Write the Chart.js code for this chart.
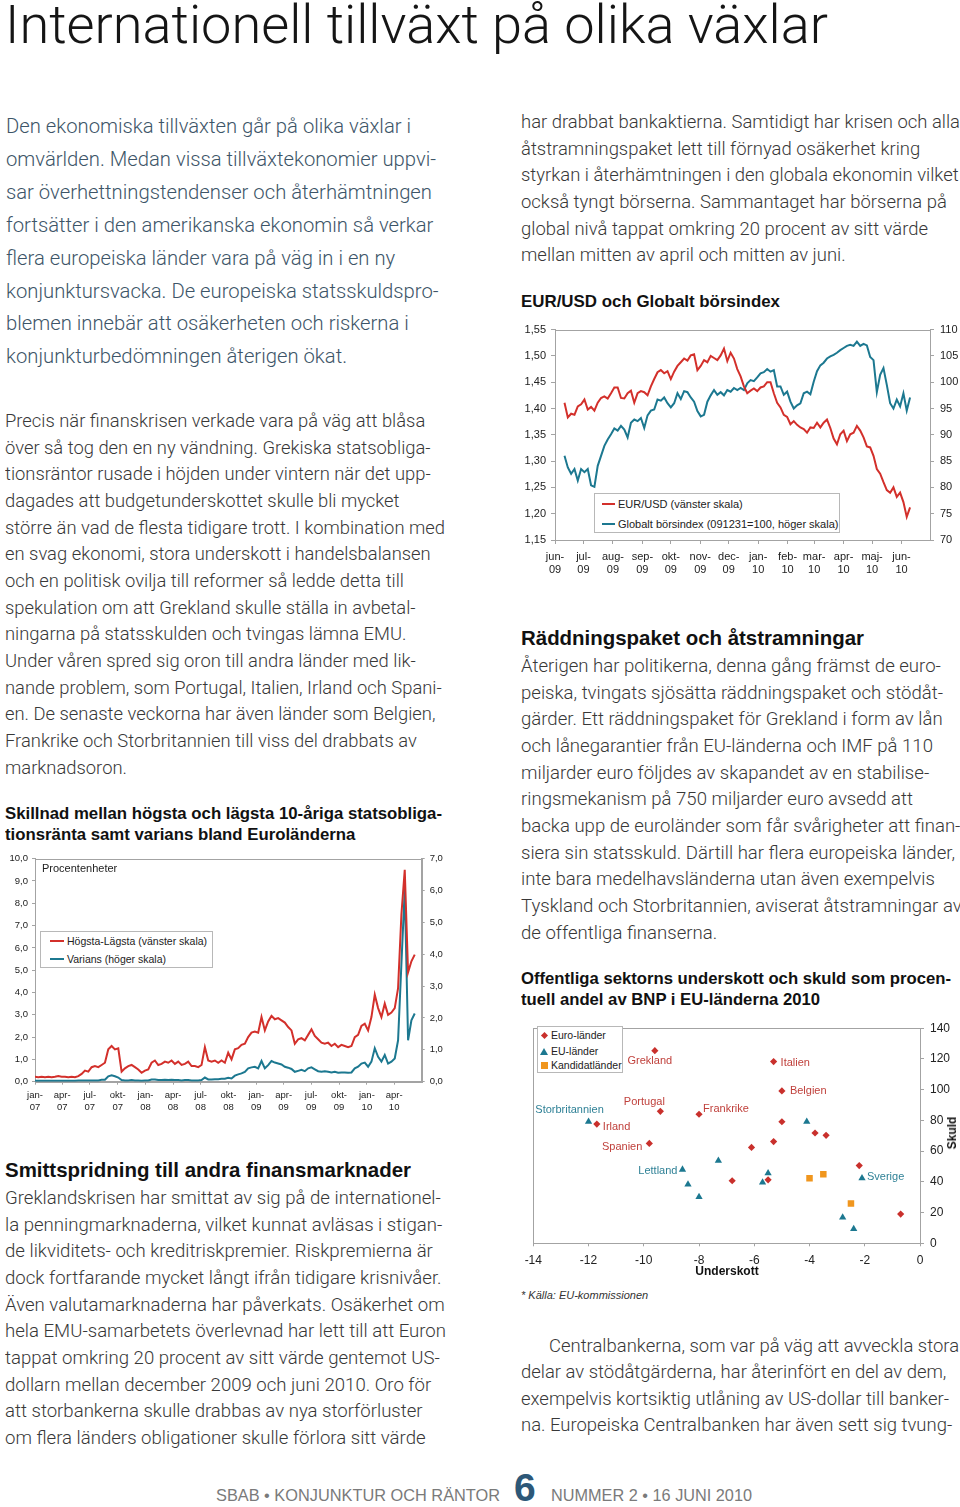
<!DOCTYPE html>
<html lang="sv">
<head>
<meta charset="utf-8">
<title>Internationell tillväxt på olika växlar</title>
<script src="https://cdn.jsdelivr.net/npm/chart.js@4.4.1/dist/chart.umd.min.js"></script>
<style>
html, body { margin: 0; padding: 0; background: #fff; }
body { width: 960px; height: 1507px; position: relative; overflow: hidden; font-family: Roboto, "Liberation Sans", sans-serif; }
.t { position: absolute; white-space: nowrap; transform-origin: 0 0; }
.title { left: 5px; top: -2px; font-family: Roboto, "Liberation Sans", sans-serif; font-weight: 300; font-size: 53.5px; line-height: 53px; color: #151515; }
.intro { font-size: 20px; line-height: 32.9px; color: #3d5568; font-weight: 300; }
.body { font-size: 18.5px; line-height: 26.65px; color: #383838; font-weight: 300; }
.head { font-family: "Liberation Sans", Arial, sans-serif; font-weight: bold; font-size: 21px; line-height: 26px; color: #111; }
.ctitle { font-family: "Liberation Sans", Arial, sans-serif; font-weight: bold; font-size: 16.5px; line-height: 20.7px; color: #111; }
.small { font-family: "Liberation Sans", Arial, sans-serif; font-size: 10.5px; line-height: 13px; color: #222; }
.box { position: absolute; }
.lg { position: absolute; background: #fff; border: 1px solid #b8b8b8; box-sizing: border-box; }
.ln { position: absolute; height: 2px; }
.dia { position: absolute; width: 5px; height: 5px; background: #c9302c; transform: rotate(45deg); }
.tri { position: absolute; width: 0; height: 0; border-left: 4px solid transparent; border-right: 4px solid transparent; border-bottom: 7px solid #1c7890; }
.sq { position: absolute; width: 7px; height: 7px; background: #f0961e; }
.foot { font-family: "Liberation Sans", Arial, sans-serif; font-size: 17px; line-height: 20px; color: #7a7a7a; }
</style>
</head>
<body>

<div class="t title" data-w="823">Internationell tillväxt på olika växlar</div>

<div class="t intro" style="left:6px;top:110px" data-w="430" data-ref="1">
<div>Den ekonomiska tillväxten går på olika växlar i</div>
<div>omvärlden. Medan vissa tillväxtekonomier uppvi-</div>
<div>sar överhettningstendenser och återhämtningen</div>
<div>fortsätter i den amerikanska ekonomin så verkar</div>
<div>flera europeiska länder vara på väg in i en ny</div>
<div>konjunktursvacka. De europeiska statsskuldspro-</div>
<div>blemen innebär att osäkerheten och riskerna i</div>
<div>konjunkturbedömningen återigen ökat.</div>
</div>

<div class="t body" style="left:5px;top:408px" data-w="440" data-ref="4">
<div>Precis när finanskrisen verkade vara på väg att blåsa</div>
<div>över så tog den en ny vändning. Grekiska statsobliga-</div>
<div>tionsräntor rusade i höjden under vintern när det upp-</div>
<div>dagades att budgetunderskottet skulle bli mycket</div>
<div>större än vad de flesta tidigare trott. I kombination med</div>
<div>en svag ekonomi, stora underskott i handelsbalansen</div>
<div>och en politisk ovilja till reformer så ledde detta till</div>
<div>spekulation om att Grekland skulle ställa in avbetal-</div>
<div>ningarna på statsskulden och tvingas lämna EMU.</div>
<div>Under våren spred sig oron till andra länder med lik-</div>
<div>nande problem, som Portugal, Italien, Irland och Spani-</div>
<div>en. De senaste veckorna har även länder som Belgien,</div>
<div>Frankrike och Storbritannien till viss del drabbats av</div>
<div>marknadsoron.</div>
</div>

<div class="t ctitle" style="left:5px;top:803px;line-height:21px" data-w="437" data-ref="0">
<div>Skillnad mellan högsta och lägsta 10-åriga statsobliga-</div>
<div>tionsränta samt varians bland Euroländerna</div>
</div>

<div class="t head" style="left:5px;top:1157px" data-w="406">Smittspridning till andra finansmarknader</div>

<div class="t body" style="left:5px;top:1185px" data-w="441" data-ref="5">
<div>Greklandskrisen har smittat av sig på de internationel-</div>
<div>la penningmarknaderna, vilket kunnat avläsas i stigan-</div>
<div>de likviditets- och kreditriskpremier. Riskpremierna är</div>
<div>dock fortfarande mycket långt ifrån tidigare krisnivåer.</div>
<div>Även valutamarknaderna har påverkats. Osäkerhet om</div>
<div>hela EMU-samarbetets överlevnad har lett till att Euron</div>
<div>tappat omkring 20 procent av sitt värde gentemot US-</div>
<div>dollarn mellan december 2009 och juni 2010. Oro för</div>
<div>att storbankerna skulle drabbas av nya storförluster</div>
<div>om flera länders obligationer skulle förlora sitt värde</div>
</div>

<div class="t body" style="left:521px;top:109px" data-w="439" data-ref="0">
<div>har drabbat bankaktierna. Samtidigt har krisen och alla</div>
<div>åtstramningspaket lett till förnyad osäkerhet kring</div>
<div>styrkan i återhämtningen i den globala ekonomin vilket</div>
<div>också tyngt börserna. Sammantaget har börserna på</div>
<div>global nivå tappat omkring 20 procent av sitt värde</div>
<div>mellan mitten av april och mitten av juni.</div>
</div>

<div class="t ctitle" style="left:521px;top:291px" data-w="259">EUR/USD och Globalt börsindex</div>

<div class="t head" style="left:521px;top:625px" data-w="343">Räddningspaket och åtstramningar</div>

<div class="t body" style="left:521px;top:653px" data-w="434" data-ref="7">
<div>Återigen har politikerna, denna gång främst de euro-</div>
<div>peiska, tvingats sjösätta räddningspaket och stödåt-</div>
<div>gärder. Ett räddningspaket för Grekland i form av lån</div>
<div>och lånegarantier från EU-länderna och IMF på 110</div>
<div>miljarder euro följdes av skapandet av en stabilise-</div>
<div>ringsmekanism på 750 miljarder euro avsedd att</div>
<div>backa upp de euroländer som får svårigheter att finan-</div>
<div>siera sin statsskuld. Därtill har flera europeiska länder,</div>
<div>inte bara medelhavsländerna utan även exempelvis</div>
<div>Tyskland och Storbritannien, aviserat åtstramningar av</div>
<div>de offentliga finanserna.</div>
</div>

<div class="t ctitle" style="left:521px;top:968px;line-height:20.5px" data-w="430" data-ref="0">
<div>Offentliga sektorns underskott och skuld som procen-</div>
<div>tuell andel av BNP i EU-länderna 2010</div>
</div>

<div class="t small" style="left:521px;top:1289px;font-style:italic;font-size:11px;color:#333">* Källa: EU-kommissionen</div>

<div class="t body" style="left:521px;top:1333px;line-height:26.3px" data-w="428" data-ref="2">
<div style="padding-left:28px">Centralbankerna, som var på väg att avveckla stora</div>
<div>delar av stödåtgärderna, har återinfört en del av dem,</div>
<div>exempelvis kortsiktig utlåning av US-dollar till banker-</div>
<div>na. Europeiska Centralbanken har även sett sig tvung-</div>
</div>

<div class="t foot" style="left:216px;top:1486px" data-w="284">SBAB • KONJUNKTUR OCH RÄNTOR</div>
<div class="t" style="left:514px;top:1468px;font-family:'Liberation Sans',Arial,sans-serif;font-weight:bold;font-size:39px;line-height:40px;color:#2d5878">6</div>
<div class="t foot" style="left:551px;top:1486px" data-w="201">NUMMER 2 • 16 JUNI 2010</div>

<!-- charts -->
<div class="box" style="left:515px;top:317px;width:445px;height:265px"><canvas id="c1"></canvas></div>
<div class="box" style="left:0px;top:848px;width:450px;height:268px"><canvas id="c2"></canvas></div>
<div class="box" style="left:515px;top:1015px;width:445px;height:265px"><canvas id="c3"></canvas></div>

<!-- chart 1 legend -->
<div class="lg" style="left:594px;top:493px;width:246px;height:40px"></div>
<div class="ln" style="left:602px;top:503px;width:13px;background:#d3302b"></div>
<div class="t small" style="left:618px;top:497.5px;font-size:11px">EUR/USD (vänster skala)</div>
<div class="ln" style="left:602px;top:523px;width:13px;background:#1c7890"></div>
<div class="t small" style="left:618px;top:517.5px;font-size:11px">Globalt börsindex (091231=100, höger skala)</div>

<!-- chart 2 legend -->
<div class="t small" style="left:42px;top:862px;font-size:11px">Procentenheter</div>
<div class="lg" style="left:40px;top:931px;width:173px;height:37px"></div>
<div class="ln" style="left:50px;top:940px;width:14px;background:#d3302b"></div>
<div class="t small" style="left:67px;top:934.5px">Högsta-Lägsta (vänster skala)</div>
<div class="ln" style="left:50px;top:958px;width:14px;background:#1c7890"></div>
<div class="t small" style="left:67px;top:952.5px">Varians (höger skala)</div>

<!-- chart 3 legend and axis titles -->
<div class="lg" style="left:537px;top:1026px;width:86px;height:47px"></div>
<div class="dia" style="left:541.5px;top:1033px"></div>
<div class="t small" style="left:551px;top:1029px">Euro-länder</div>
<div class="tri" style="left:540px;top:1047.5px"></div>
<div class="t small" style="left:551px;top:1044.5px">EU-länder</div>
<div class="sq" style="left:540.5px;top:1062px"></div>
<div class="t small" style="left:551px;top:1059px">Kandidatländer</div>
<div class="t small" style="left:690px;top:1264px;width:74px;text-align:center;font-weight:bold;font-size:12px;line-height:14px;color:#111">Underskott</div>
<div class="t small" style="left:952px;top:1133px;font-weight:bold;font-size:12px;line-height:14px;color:#111;transform:translate(-50%,-50%) rotate(-90deg);transform-origin:50% 50%">Skuld</div>

<script>
// ---------- data ----------
// EUR/USD och Globalt börsindex, sampled every 3.5 days from 11 June 2009 (day 0 = 1 June 2009)
const eurStartDay = 10;
const eurStepDays = 3.5;
const eurusd = [
  1.411, 1.383, 1.390, 1.388, 1.404, 1.408, 1.417, 1.398, 1.403, 1.396,
  1.411, 1.420, 1.423, 1.419, 1.429, 1.440, 1.440, 1.420, 1.419, 1.429,
  1.434, 1.411, 1.429, 1.433, 1.431, 1.425, 1.442, 1.456, 1.469, 1.473,
  1.467, 1.471, 1.456, 1.470, 1.481, 1.488, 1.495, 1.491, 1.501, 1.503,
  1.473, 1.481, 1.492, 1.488, 1.500, 1.496, 1.492, 1.501, 1.514, 1.490,
  1.506, 1.495, 1.475, 1.461, 1.442, 1.429, 1.434, 1.438, 1.433, 1.440,
  1.442, 1.450, 1.450, 1.429, 1.411, 1.402, 1.388, 1.384, 1.370, 1.376,
  1.369, 1.364, 1.361, 1.354, 1.364, 1.363, 1.373, 1.364, 1.373, 1.379,
  1.363, 1.343, 1.332, 1.351, 1.358, 1.338, 1.351, 1.354, 1.367, 1.358,
  1.345, 1.328, 1.326, 1.310, 1.285, 1.276, 1.260, 1.245, 1.240, 1.250,
  1.232, 1.240, 1.222, 1.194, 1.212
];
const borsindex = [
  86.0, 83.8, 82.6, 83.5, 81.3, 83.5, 82.9, 83.5, 80.4, 80.1,
  84.1, 86.0, 87.9, 89.1, 90.1, 91.2, 90.8, 91.7, 91.0, 89.5,
  92.3, 92.9, 92.6, 93.2, 91.3, 93.7, 94.6, 94.8, 96.7, 96.5,
  97.1, 96.0, 95.2, 96.0, 97.9, 96.8, 98.3, 98.1, 97.1, 96.3,
  94.5, 93.5, 93.8, 96.3, 97.5, 98.5, 97.6, 98.1, 97.5, 98.5,
  98.2, 98.9, 98.5, 98.9, 98.5, 99.8, 100.4, 100.2, 100.9, 101.7,
  101.9, 102.5, 102.0, 102.3, 99.2, 99.2, 97.6, 98.2, 96.3, 95.0,
  95.6, 96.0, 97.9, 98.2, 97.7, 100.1, 102.1, 103.2, 103.7, 104.5,
  104.9, 105.2, 105.6, 106.1, 106.5, 106.9, 107.1, 106.9, 107.7, 106.9,
  107.3, 107.0, 104.8, 104.2, 98.1, 101.4, 102.7, 99.5, 96.0, 95.0,
  96.7, 95.4, 97.9, 94.6, 97.1
];
const monthTickDays = [0, 30, 61, 92, 122, 153, 183, 214, 245, 273, 304, 334, 365];
const monthTickLabels = ['jun-09', 'jul-09', 'aug-09', 'sep-09', 'okt-09', 'nov-09', 'dec-09',
  'jan-10', 'feb-10', 'mar-10', 'apr-10', 'maj-10', 'jun-10'];

// Högsta-Lägsta och Varians, sampled every 11 days from 1 Jan 2007 (day 0)
const spreadStepDays = 11;
const hogstaLagsta = [
  0.22, 0.20, 0.22, 0.20, 0.22, 0.20, 0.22, 0.25, 0.22, 0.22,
  0.20, 0.22, 0.20, 0.25, 0.35, 0.50, 0.45, 0.65, 0.70, 0.65,
  0.75, 0.85, 1.45, 1.60, 1.45, 1.50, 0.45, 0.60, 0.70, 0.75,
  0.65, 0.55, 0.40, 0.50, 0.55, 0.85, 0.95, 0.75, 0.80, 0.90,
  0.85, 0.95, 0.80, 0.90, 0.75, 0.80, 0.90, 0.70, 0.70, 0.65,
  0.75, 1.55, 0.95, 0.90, 0.95, 0.85, 0.95, 0.85, 1.30, 1.00,
  1.45, 1.50, 1.65, 1.70, 2.00, 2.20, 2.25, 2.20, 2.90, 2.30,
  2.70, 2.95, 2.80, 2.85, 2.75, 2.65, 2.45, 2.30, 1.70, 1.90,
  1.95, 1.85, 2.10, 2.35, 2.05, 1.90, 1.75, 1.70, 1.75, 1.60,
  1.70, 1.55, 1.65, 1.60, 1.55, 1.60, 2.00, 2.10, 2.50, 2.60,
  2.30, 2.90, 3.90, 3.30, 2.90, 3.50, 3.00, 3.10, 3.30, 4.20,
  7.50, 9.50, 4.90, 5.40, 5.70
];
const varians = [
  0.03, 0.03, 0.03, 0.03, 0.03, 0.03, 0.03, 0.03, 0.03, 0.03,
  0.03, 0.03, 0.03, 0.04, 0.04, 0.04, 0.04, 0.04, 0.04, 0.04,
  0.06, 0.06, 0.17, 0.20, 0.17, 0.13, 0.05, 0.04, 0.04, 0.05,
  0.04, 0.04, 0.03, 0.04, 0.04, 0.07, 0.07, 0.05, 0.05, 0.06,
  0.05, 0.06, 0.05, 0.05, 0.04, 0.05, 0.05, 0.04, 0.04, 0.04,
  0.05, 0.13, 0.07, 0.07, 0.08, 0.08, 0.09, 0.09, 0.12, 0.10,
  0.19, 0.23, 0.26, 0.31, 0.42, 0.45, 0.47, 0.42, 0.65, 0.42,
  0.52, 0.65, 0.60, 0.57, 0.54, 0.47, 0.44, 0.40, 0.31, 0.34,
  0.37, 0.33, 0.42, 0.45, 0.39, 0.33, 0.31, 0.33, 0.31, 0.29,
  0.31, 0.28, 0.29, 0.29, 0.28, 0.29, 0.42, 0.47, 0.57, 0.60,
  0.47, 0.63, 1.05, 0.78, 0.63, 0.84, 0.57, 0.63, 0.73, 1.30,
  3.70, 6.05, 1.30, 1.93, 2.14
];
const quarterTickDays = [0, 90, 181, 273, 365, 456, 547, 639, 731, 821, 912, 1004, 1096, 1186];
const quarterTickLabels = ['jan-07', 'apr-07', 'jul-07', 'okt-07', 'jan-08', 'apr-08', 'jul-08',
  'okt-08', 'jan-09', 'apr-09', 'jul-09', 'okt-09', 'jan-10', 'apr-10'];

// Underskott (x) och skuld (y), % av BNP 2010
const euroX = [-9.6, -5.3, -5.0, -9.4, -8.0, -11.7, -5.0, -3.8, -3.4, -9.8, -6.1, -5.3, -6.8, -5.5, -2.2, -0.7];
const euroY = [125.4, 118.3, 99.2, 85.9, 84.0, 77.6, 79.1, 71.8, 70.3, 65.0, 62.4, 66.2, 40.7, 41.3, 50.6, 19.0];
const euroNames = ['Grekland', 'Italien', 'Belgien', 'Portugal', 'Frankrike', 'Irland', '', '', '', 'Spanien', '', '', '', '', '', ''];
const euX = [-12.0, -4.1, -7.3, -8.6, -8.4, -8.0, -5.5, -5.7, -2.1, -2.8, -2.4];
const euY = [79.1, 79.1, 53.8, 48.0, 38.3, 30.2, 45.6, 39.6, 42.4, 16.9, 9.4];
const euNames = ['Storbritannien', '', '', 'Lettland', '', '', '', '', 'Sverige', '', ''];
const kandX = [-4.0, -3.5, -2.5];
const kandY = [42.4, 45.0, 25.9];

// label offsets in px from the point: [dx, dy, align]
const labelOffsets = {
  Grekland: [-5, 10, 'center'], Italien: [7, 1, 'left'], Belgien: [8, 0, 'left'],
  Portugal: [-16, -9, 'center'], Frankrike: [4, -5, 'left'], Irland: [6, 3, 'left'],
  Spanien: [-7, 4, 'right'], Storbritannien: [-19, -12, 'center'], Lettland: [-5, 1, 'right'],
  Sverige: [5, -1, 'left']
};

// ---------- text width fitting ----------
const meas = document.createElement('canvas').getContext('2d');
document.querySelectorAll('[data-w]').forEach(el => {
  const cs = getComputedStyle(el);
  meas.font = cs.fontStyle + ' ' + cs.fontWeight + ' ' + cs.fontSize + ' ' + cs.fontFamily;
  const ref = el.children.length ? el.children[+(el.dataset.ref || 0)].textContent : el.textContent;
  const natural = meas.measureText(ref.trim()).width;
  el.style.transform = 'scaleX(' + (+el.dataset.w / natural) + ')';
});

// ---------- charts ----------
const RED = '#d3302b';
const TEAL = '#1c7890';
const AXIS = '#a3a3a3';
Chart.defaults.font.family = '"Liberation Sans", Arial, sans-serif';
Chart.defaults.color = '#222';
Chart.defaults.animation = false;

const frame = {
  id: 'frame',
  beforeDatasetsDraw(chart) {
    const { ctx, chartArea: a } = chart;
    ctx.save();
    ctx.strokeStyle = AXIS;
    ctx.lineWidth = 1;
    ctx.strokeRect(Math.round(a.left) + 0.5, Math.round(a.top) + 0.5,
      Math.round(a.right) - Math.round(a.left), Math.round(a.bottom) - Math.round(a.top));
    ctx.restore();
  }
};

const dashLabel = s => { const p = s.split('-'); return [p[0] + '-', p[1]]; };
const comma = d => v => v.toFixed(d).replace('.', ',');

function tickAxis(opts) {
  return Object.assign({
    grid: { drawOnChartArea: false, tickLength: 4, color: AXIS },
    border: { color: AXIS }
  }, opts);
}

// chart 1
new Chart(document.getElementById('c1'), {
  type: 'line',
  data: {
    datasets: [
      { data: eurusd.map((v, i) => ({ x: eurStartDay + i * eurStepDays, y: v })), yAxisID: 'yL',
        borderColor: RED, borderWidth: 2, pointRadius: 0 },
      { data: borsindex.map((v, i) => ({ x: eurStartDay + i * eurStepDays, y: v })), yAxisID: 'yR',
        borderColor: TEAL, borderWidth: 2, pointRadius: 0 }
    ]
  },
  options: {
    responsive: true, maintainAspectRatio: false,
    layout: { padding: { top: 10, left: 0, right: 0, bottom: 0 } },
    plugins: { legend: { display: false }, tooltip: { enabled: false } },
    scales: {
      x: tickAxis({
        type: 'linear', min: 0, max: 395,
        afterBuildTicks: s => { s.ticks = monthTickDays.map(v => ({ value: v })); },
        afterFit: s => { s.height = 42; },
        ticks: { autoSkip: false, maxRotation: 0, padding: 6, font: { size: 11, lineHeight: 1.18 },
          callback: (v, i) => dashLabel(monthTickLabels[i]) }
      }),
      yL: tickAxis({
        position: 'left', min: 1.15, max: 1.55,
        afterFit: s => { s.width = 40; },
        ticks: { stepSize: 0.05, padding: 5, font: { size: 11 }, callback: comma(2) }
      }),
      yR: tickAxis({
        position: 'right', min: 70, max: 110,
        afterFit: s => { s.width = 30; },
        ticks: { stepSize: 5, padding: 6, font: { size: 11 } }
      })
    }
  },
  plugins: [frame]
});

// chart 2
new Chart(document.getElementById('c2'), {
  type: 'line',
  data: {
    datasets: [
      { data: hogstaLagsta.map((v, i) => ({ x: i * spreadStepDays, y: v })), yAxisID: 'yL',
        borderColor: RED, borderWidth: 2, pointRadius: 0 },
      { data: varians.map((v, i) => ({ x: i * spreadStepDays, y: v })), yAxisID: 'yR',
        borderColor: TEAL, borderWidth: 2, pointRadius: 0 }
    ]
  },
  options: {
    responsive: true, maintainAspectRatio: false,
    layout: { padding: { top: 10.3, left: 0, right: 0, bottom: 0 } },
    plugins: { legend: { display: false }, tooltip: { enabled: false } },
    scales: {
      x: tickAxis({
        type: 'linear', min: 0, max: 1277,
        afterBuildTicks: s => { s.ticks = quarterTickDays.map(v => ({ value: v })); },
        afterFit: s => { s.height = 34.3; },
        grid: { drawOnChartArea: false, tickLength: 3, color: AXIS },
        ticks: { autoSkip: false, maxRotation: 0, padding: 5, font: { size: 9.5, lineHeight: 1.26 },
          callback: (v, i) => dashLabel(quarterTickLabels[i]) }
      }),
      yL: tickAxis({
        position: 'left', min: 0, max: 10,
        afterFit: s => { s.width = 35; },
        grid: { drawOnChartArea: false, tickLength: 3, color: AXIS },
        ticks: { stepSize: 1, padding: 4, font: { size: 9.5 }, callback: comma(1) }
      }),
      yR: tickAxis({
        position: 'right', min: 0, max: 7,
        afterFit: s => { s.width = 28.3; },
        grid: { drawOnChartArea: false, tickLength: 3, color: AXIS },
        ticks: { stepSize: 1, padding: 5, font: { size: 9.5 }, callback: comma(1) }
      })
    }
  },
  plugins: [frame]
});

// chart 3
const countryLabels = {
  id: 'countryLabels',
  afterDatasetsDraw(chart) {
    const { ctx } = chart;
    ctx.save();
    ctx.font = '11px "Liberation Sans", Arial, sans-serif';
    ctx.textBaseline = 'middle';
    chart.data.datasets.forEach((ds, di) => {
      if (!ds.names) return;
      const meta = chart.getDatasetMeta(di);
      ds.names.forEach((name, i) => {
        if (!name) return;
        const [dx, dy, align] = labelOffsets[name];
        const p = meta.data[i];
        ctx.fillStyle = ds.labelColor;
        ctx.textAlign = align;
        ctx.fillText(name, p.x + dx, p.y + dy);
      });
    });
    ctx.restore();
  }
};

new Chart(document.getElementById('c3'), {
  type: 'scatter',
  data: {
    datasets: [
      { label: 'Euro-länder', data: euroX.map((x, i) => ({ x, y: euroY[i] })), names: euroNames,
        labelColor: '#c0413c', pointStyle: 'rectRot', pointRadius: 3.6,
        backgroundColor: '#c9302c', borderColor: '#c9302c', borderWidth: 0 },
      { label: 'EU-länder', data: euX.map((x, i) => ({ x, y: euY[i] })), names: euNames,
        labelColor: '#2f8196', pointStyle: 'triangle', pointRadius: 4.2,
        backgroundColor: TEAL, borderColor: TEAL, borderWidth: 0 },
      { label: 'Kandidatländer', data: kandX.map((x, i) => ({ x, y: kandY[i] })),
        pointStyle: 'rect', pointRadius: 4.6,
        backgroundColor: '#f0961e', borderColor: '#f0961e', borderWidth: 0 }
    ]
  },
  options: {
    responsive: true, maintainAspectRatio: false,
    layout: { padding: { top: 10.6, left: 18.3, right: 0, bottom: 0 } },
    plugins: { legend: { display: false }, tooltip: { enabled: false } },
    scales: {
      x: tickAxis({
        type: 'linear', min: -14, max: 0,
        afterFit: s => { s.height = 36.7; },
        grid: { drawOnChartArea: false, tickLength: 3, color: AXIS },
        ticks: { stepSize: 2, padding: 7, font: { size: 12 }, callback: v => String(v) }
      }),
      y: tickAxis({
        position: 'right', min: 0, max: 140,
        afterFit: s => { s.width = 40; },
        ticks: { stepSize: 20, padding: 6, font: { size: 12 } }
      })
    }
  },
  plugins: [frame, countryLabels]
});
</script>
</body>
</html>
